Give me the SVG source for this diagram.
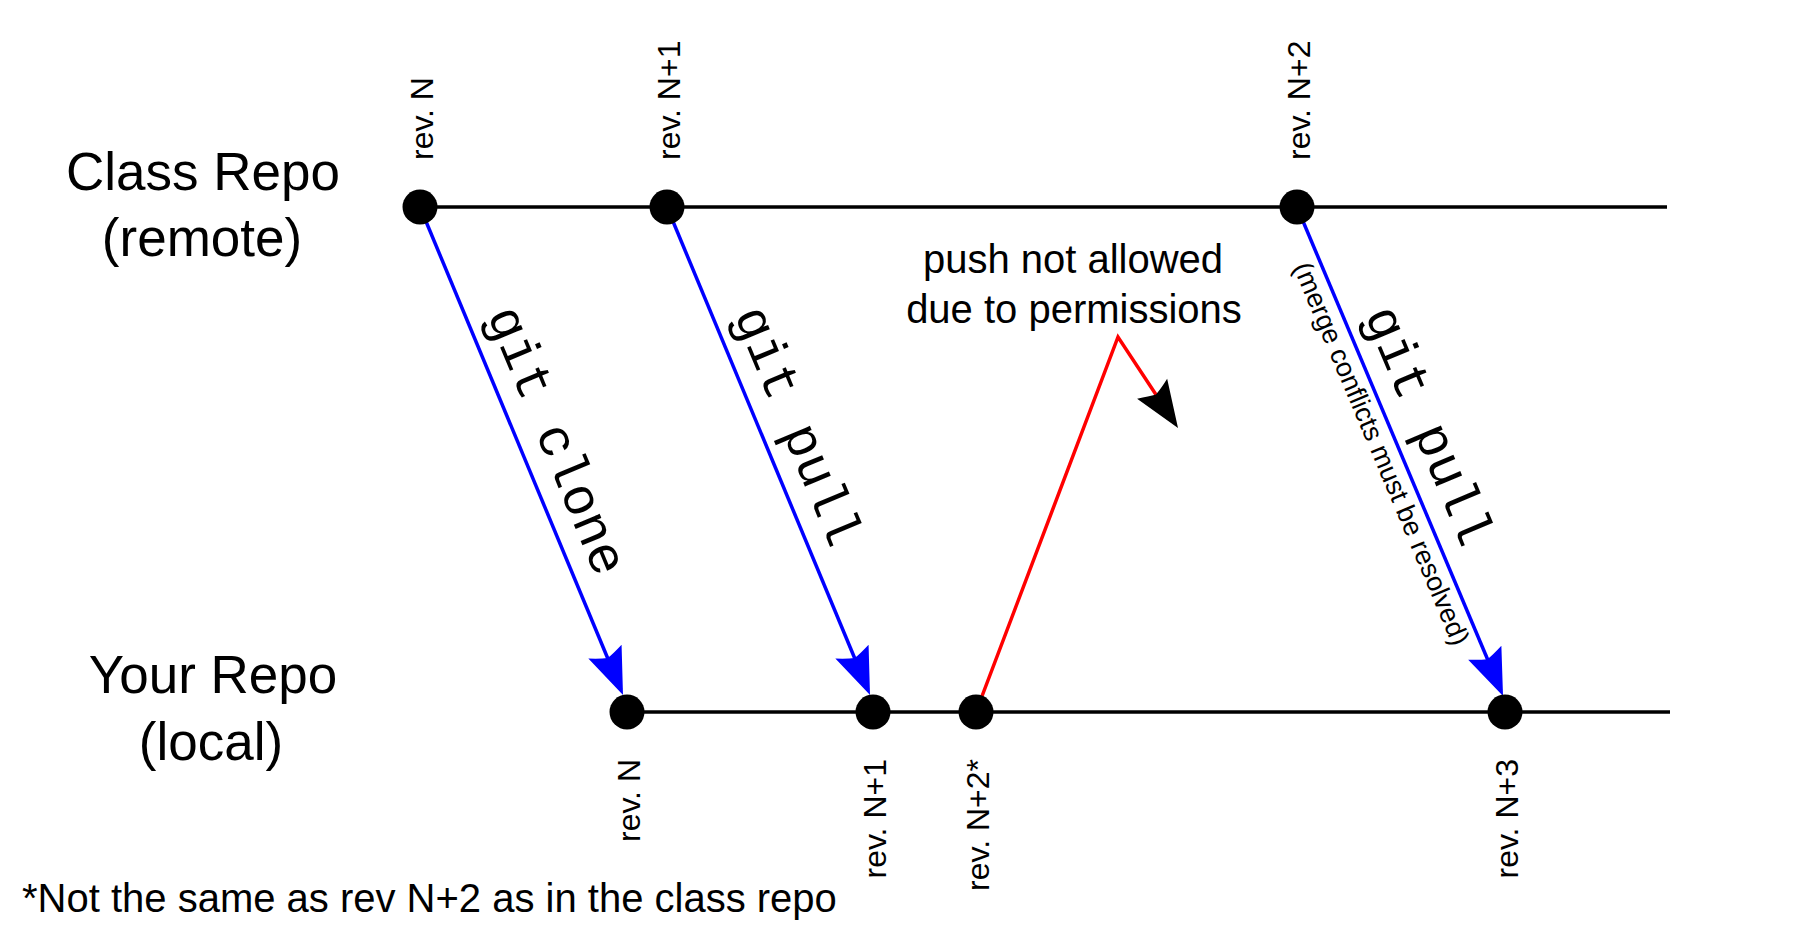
<svg xmlns="http://www.w3.org/2000/svg" width="1800" height="930" viewBox="0 0 1800 930">
<style>
.lbl{font-family:"Liberation Sans",Arial,sans-serif;fill:#000}
.big{font-size:53px;text-anchor:middle}
.rev{font-size:32px}
.cmd{font-family:"Liberation Mono","Courier New",monospace;font-size:53px;fill:#000}
.tl{stroke:#000;stroke-width:3.5;fill:none}
.blue{stroke:#0000ff;stroke-width:3.5;fill:none;marker-end:url(#ab)}
.red{stroke:#ff0000;stroke-width:3.5;fill:none;marker-end:url(#ak)}
.node{fill:#000}
</style>
<defs>
<marker id="ab" viewBox="-50 -22 52 44" markerWidth="52" markerHeight="44" refX="-6" refY="0" orient="auto" markerUnits="userSpaceOnUse">
<path d="M0,0 L-47,-18 Q-42,-7 -40,0 Q-42,7 -47,18 Z" fill="#0000ff"/>
</marker>
<marker id="ak" viewBox="-50 -22 52 44" markerWidth="52" markerHeight="44" refX="-6" refY="0" orient="auto" markerUnits="userSpaceOnUse">
<path d="M0,0 L-47,-18 Q-42,-7 -40,0 Q-42,7 -47,18 Z" fill="#000"/>
</marker>
</defs>
<rect width="1800" height="930" fill="#fff"/>

<g id="timelines">
<line class="tl" x1="420" y1="207" x2="1667" y2="207"/>
<line class="tl" x1="627" y1="712" x2="1670" y2="712"/>
</g>

<g id="repo-labels">
<text class="lbl big" x="203" y="190">Class Repo</text>
<text class="lbl big" x="202" y="256">(remote)</text>
<text class="lbl big" x="213" y="693">Your Repo</text>
<text class="lbl big" x="211" y="760">(local)</text>
</g>

<g id="connectors">
<path class="blue" d="M420,207 L620.7,689.5"/>
<path class="blue" d="M667,207 L867.7,689.5"/>
<path class="blue" d="M1297,207 L1500.7,690.5"/>
<path class="red" d="M976,712 L1118,337 L1174.7,423"/>
<text class="cmd" transform="translate(486.5,314.7) rotate(67.41)">git clone</text>
<text class="cmd" transform="translate(733.5,314.7) rotate(67.41)">git pull</text>
<text class="cmd" transform="translate(1363.9,314.7) rotate(67.16)">git pull</text>
<text class="lbl" font-size="27" transform="translate(1293,267) rotate(67.16)">(merge conflicts must be resolved)</text>
<text class="lbl" font-size="40" text-anchor="middle" x="1073" y="273">push not allowed</text>
<text class="lbl" font-size="40" text-anchor="middle" x="1074" y="323">due to permissions</text>
</g>

<g id="remote-revN">
<circle class="node" cx="420" cy="207" r="17.5"/>
<text class="lbl rev" transform="translate(433,160) rotate(-90)">rev. N</text>
</g>
<g id="remote-revN1">
<circle class="node" cx="667" cy="207" r="17.5"/>
<text class="lbl rev" transform="translate(680,160) rotate(-90)">rev. N+1</text>
</g>
<g id="remote-revN2">
<circle class="node" cx="1297" cy="207" r="17.5"/>
<text class="lbl rev" transform="translate(1310,160) rotate(-90)">rev. N+2</text>
</g>

<g id="local-revN">
<circle class="node" cx="627" cy="712" r="17.5"/>
<text class="lbl rev" text-anchor="end" transform="translate(640,759) rotate(-90)">rev. N</text>
</g>
<g id="local-revN1">
<circle class="node" cx="873" cy="712" r="17.5"/>
<text class="lbl rev" text-anchor="end" transform="translate(886,759) rotate(-90)">rev. N+1</text>
</g>
<g id="local-revN2star">
<circle class="node" cx="976" cy="712" r="17.5"/>
<text class="lbl rev" text-anchor="end" transform="translate(989,759) rotate(-90)">rev. N+2*</text>
</g>
<g id="local-revN3">
<circle class="node" cx="1505" cy="712" r="17.5"/>
<text class="lbl rev" text-anchor="end" transform="translate(1518,759) rotate(-90)">rev. N+3</text>
</g>

<g id="footnote">
<text class="lbl" font-size="40" x="22" y="912">*Not the same as rev N+2 as in the class repo</text>
</g>
</svg>
